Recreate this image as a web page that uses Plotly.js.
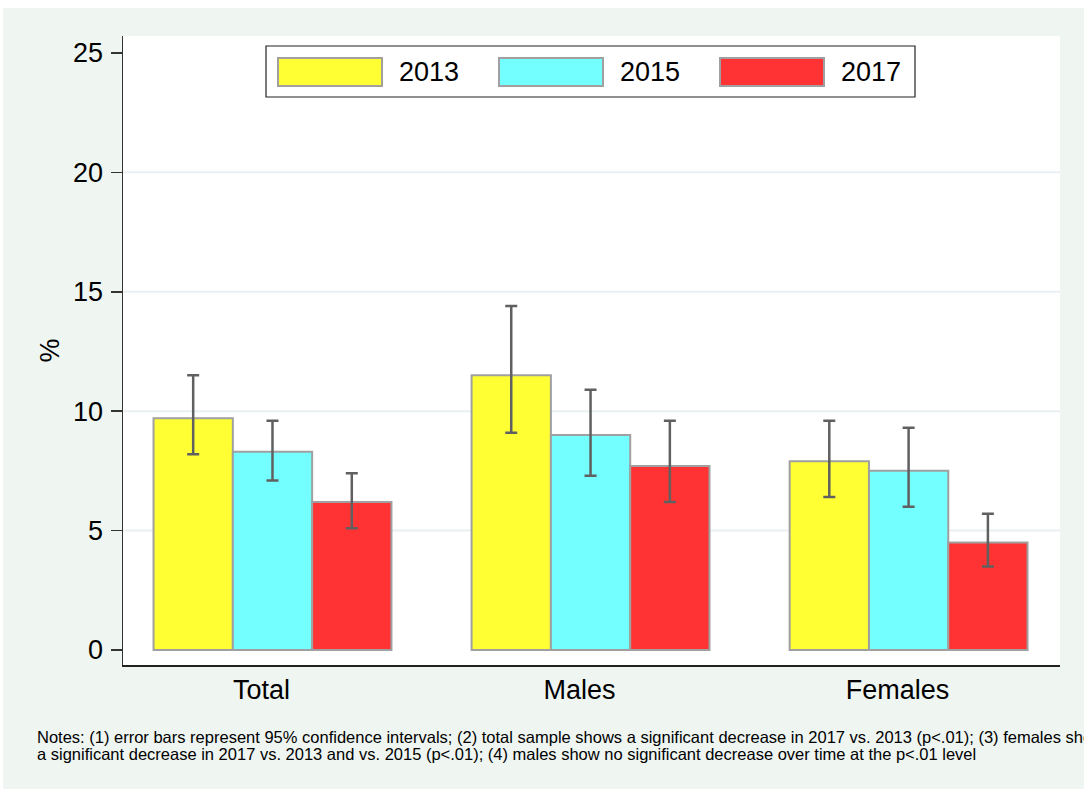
<!DOCTYPE html>
<html>
<head>
<meta charset="utf-8">
<script src="https://cdn.plot.ly/plotly-3.0.1.min.js"></script>
<style>
  html, body { margin: 0; padding: 0; background: #ffffff; width: 1084px; height: 789px; overflow: hidden; }
  #chart { position: absolute; left: 3px; top: 8px; width: 1081px; height: 781px; }
</style>
</head>
<body>
<div id="chart"></div>
<script>
// ---- data ----
const categories = ['Total', 'Males', 'Females'];
const years = ['2013', '2015', '2017'];
const mean2013 = [9.7, 11.5, 7.9];
const lo2013 = [8.2, 9.1, 6.4];
const hi2013 = [11.5, 14.4, 9.6];
const mean2015 = [8.3, 9.0, 7.5];
const lo2015 = [7.1, 7.3, 6.0];
const hi2015 = [9.6, 10.9, 9.3];
const mean2017 = [6.2, 7.7, 4.5];
const lo2017 = [5.1, 6.2, 3.5];
const hi2017 = [7.4, 9.6, 5.7];
const yTicks = [0, 5, 10, 15, 20, 25];
const gridVals = [5, 10, 15, 20];
const notesLine1 = 'Notes: (1) error bars represent 95% confidence intervals; (2) total sample shows a significant decrease in 2017 vs. 2013 (p<.01); (3) females show';
const notesLine2 = 'a significant decrease in 2017 vs. 2013 and vs. 2015 (p<.01); (4) males show no significant decrease over time at the p<.01 level';

// ---- styles ----
const colors = ['#FFFF33', '#73FFFF', '#FF3333'];
const FONT = 'Liberation Sans, Arial, Helvetica, sans-serif';
const seriesMeans = [mean2013, mean2015, mean2017];
const seriesLo = [lo2013, lo2015, lo2017];
const seriesHi = [hi2013, hi2015, hi2017];

const traces = years.map((yr, i) => ({
  type: 'bar',
  name: yr,
  x: categories,
  y: seriesMeans[i],
  marker: { color: colors[i], line: { color: '#A0A0A0', width: 2 } },
  error_y: {
    type: 'data',
    symmetric: false,
    array: seriesHi[i].map((h, k) => h - seriesMeans[i][k]),
    arrayminus: seriesMeans[i].map((m, k) => m - seriesLo[i][k]),
    color: '#606060',
    thickness: 2.5,
    width: 6
  },
  hoverinfo: 'none'
}));

// layout geometry (page pixels -> paper coords)
const DIV_L = 3, DIV_T = 8, W = 1081, H = 781;
const M = { l: 120, r: 24, t: 28, b: 124 };
const PW = W - M.l - M.r, PH = H - M.t - M.b;
const px = X => (X - DIV_L - M.l) / PW;
const py = Y => 1 - (Y - DIV_T - M.t) / PH;

const shapes = gridVals.map(v => ({
  type: 'line', xref: 'paper', yref: 'y', x0: 0, x1: 1, y0: v, y1: v,
  line: { color: '#E8F0F2', width: 2 }, layer: 'below'
}));

// custom legend (wide swatches)
shapes.push({
  type: 'rect', xref: 'paper', yref: 'paper',
  x0: px(266), x1: px(915), y0: py(46), y1: py(97),
  line: { color: '#222222', width: 1.2 }, fillcolor: '#ffffff', layer: 'above'
});
const annotations = [];
const swatchLeft = [278, 499, 720];
years.forEach((yr, i) => {
  shapes.push({
    type: 'rect', xref: 'paper', yref: 'paper',
    x0: px(swatchLeft[i]), x1: px(swatchLeft[i] + 104), y0: py(58), y1: py(86),
    line: { color: '#A0A0A0', width: 2 }, fillcolor: colors[i], layer: 'above'
  });
  annotations.push({
    xref: 'paper', yref: 'paper', x: px(swatchLeft[i] + 119), y: py(72),
    xanchor: 'left', yanchor: 'middle', showarrow: false, text: yr,
    font: { family: FONT, size: 27, color: '#000000' }
  });
});

annotations.push({
  xref: 'paper', yref: 'paper', x: px(35), y: py(737),
  xanchor: 'left', yanchor: 'middle', showarrow: false, align: 'left',
  text: notesLine1, font: { family: FONT, size: 16.5, color: '#000000' }
});
annotations.push({
  xref: 'paper', yref: 'paper', x: px(35), y: py(754),
  xanchor: 'left', yanchor: 'middle', showarrow: false, align: 'left',
  text: notesLine2, font: { family: FONT, size: 16.5, color: '#000000' }
});

const layout = {
  width: W, height: H,
  margin: M,
  paper_bgcolor: '#EFF5F1',
  plot_bgcolor: '#ffffff',
  font: { family: FONT, color: '#000000' },
  barmode: 'group',
  bargap: 0.252,
  bargroupgap: 0,
  showlegend: false,
  xaxis: {
    type: 'category',
    range: [-0.47, 2.476],
    showline: true, linecolor: '#222222', linewidth: 1.5,
    ticks: '', showgrid: false, zeroline: false,
    tickfont: { family: FONT, size: 27, color: '#000000' },
    ticklabelstandoff: 0,
    ticklabelshift: -11,
    fixedrange: true
  },
  yaxis: {
    range: [-0.63, 25.71],
    tickvals: yTicks,
    ticktext: yTicks.map(String),
    showline: true, linecolor: '#333333', linewidth: 1.5,
    ticks: 'outside', ticklen: 11, tickwidth: 1.5, tickcolor: '#333333',
    showgrid: false, zeroline: false,
    tickfont: { family: FONT, size: 27, color: '#000000' },
    ticklabelstandoff: 2,
    title: { text: '%', font: { family: FONT, size: 27, color: '#000000' }, standoff: 5 },
    fixedrange: true
  },
  shapes: shapes,
  annotations: annotations
};

Plotly.newPlot('chart', traces, layout, { displayModeBar: false, staticPlot: true });
</script>
</body>
</html>
